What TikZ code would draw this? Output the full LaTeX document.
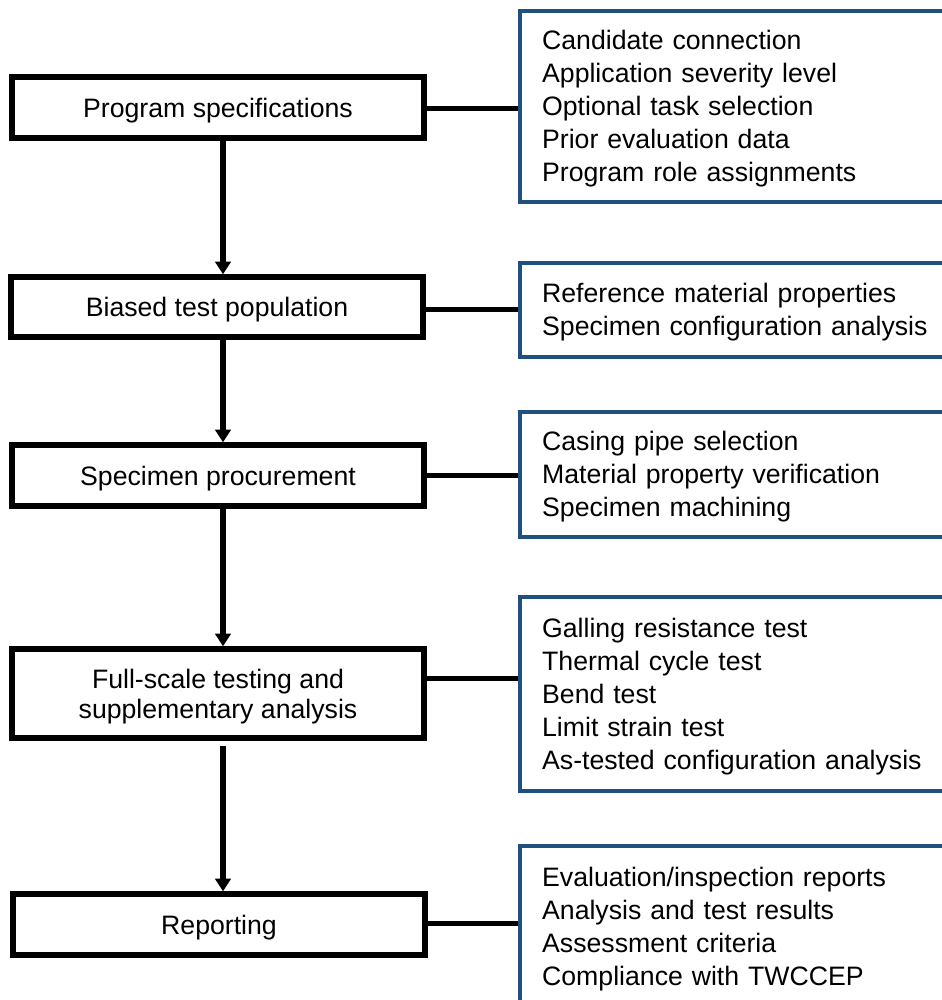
\documentclass[tikz,border=0pt]{standalone}
\usepackage{fontspec}
\setmainfont{Liberation Sans}
\usetikzlibrary{arrows.meta}
\definecolor{boxblue}{RGB}{31,80,128}
\newcommand{\itemlines}[1]{\raisebox{-2pt}[\height][\depth]{\begin{tabular}{@{}l@{}}#1\end{tabular}}}
\begin{document}
\begin{tikzpicture}[x=0.75pt,y=-0.75pt,
  stepbox/.style={draw=black,line width=4pt,minimum width=309pt,inner sep=0pt,align=center,
    text depth=0pt,font=\fontsize{20pt}{22.5pt}\selectfont,fill=white},
  listbox/.style={draw=boxblue,line width=3.2pt,anchor=west,text width=300pt,inner xsep=16.5pt,inner ysep=0pt,
    align=left,font=\fontsize{20pt}{24.75pt}\selectfont},
  link/.style={draw=black,line width=3.75pt},
  flow/.style={draw=black,line width=4pt,-{Triangle[width=11.5pt,length=9.5pt]}}]
\useasboundingbox (0,0) rectangle (942,1000);
\clip (0,0) rectangle (942,1000);
% left boxes
\node[stepbox,minimum height=45.75pt] (b1) at (218,107.5) {Program specifications};
\node[stepbox,minimum height=45pt] (b2) at (217,307) {Biased test population};
\node[stepbox,minimum height=45.75pt] (b3) at (218,475.5) {Specimen procurement};
\node[stepbox,minimum height=66.75pt] (b4) at (218,693.5) {Full-scale testing and\\supplementary analysis};
\node[stepbox,minimum height=45.75pt] (b5) at (219,924.5) {Reporting};
% right boxes
\node[listbox,minimum height=143.25pt] (r1) at (518,106.5) {\itemlines{Candidate connection\\Application severity level\\Optional task selection\\Prior evaluation data\\Program role assignments}};
\node[listbox,minimum height=70.5pt] (r2) at (518,310) {\itemlines{Reference material properties\\Specimen configuration analysis}};
\node[listbox,minimum height=93.75pt] (r3) at (518,474.5) {\itemlines{Casing pipe selection\\Material property verification\\Specimen machining}};
\node[listbox,minimum height=145.5pt] (r4) at (518,694) {\itemlines{Galling resistance test\\Thermal cycle test\\Bend test\\Limit strain test\\As-tested configuration analysis}};
\node[listbox,minimum height=121.5pt] (r5) at (518,927) {\itemlines{Evaluation/inspection reports\\Analysis and test results\\Assessment criteria\\Compliance with TWCCEP}};
% connectors
\draw[link] ([yshift=-1pt]b1.east) -- ([yshift=-1pt]b1.east -| r1.west);
\draw[link] ([yshift=-2pt]b2.east) -- ([yshift=-2pt]b2.east -| r2.west);
\draw[link] (b3.east) -- (b3.east -| r3.west);
\draw[link] ([yshift=11.6pt]b4.east) -- ([yshift=11.6pt]b4.east -| r4.west);
\draw[link] ([yshift=1pt]b5.east) -- ([yshift=1pt]b5.east -| r5.west);
% arrows
\draw[flow] ([xshift=3.75pt]b1.south) -- ([xshift=4.5pt]b2.north);
\draw[flow] ([xshift=4.5pt]b2.south) -- ([xshift=3.75pt]b3.north);
\draw[flow] ([xshift=3.75pt]b3.south) -- ([xshift=3.75pt]b4.north);
\draw[flow,shorten <=4pt] ([xshift=3.75pt]b4.south) -- ([xshift=3pt]b5.north);
\end{tikzpicture}
\end{document}
